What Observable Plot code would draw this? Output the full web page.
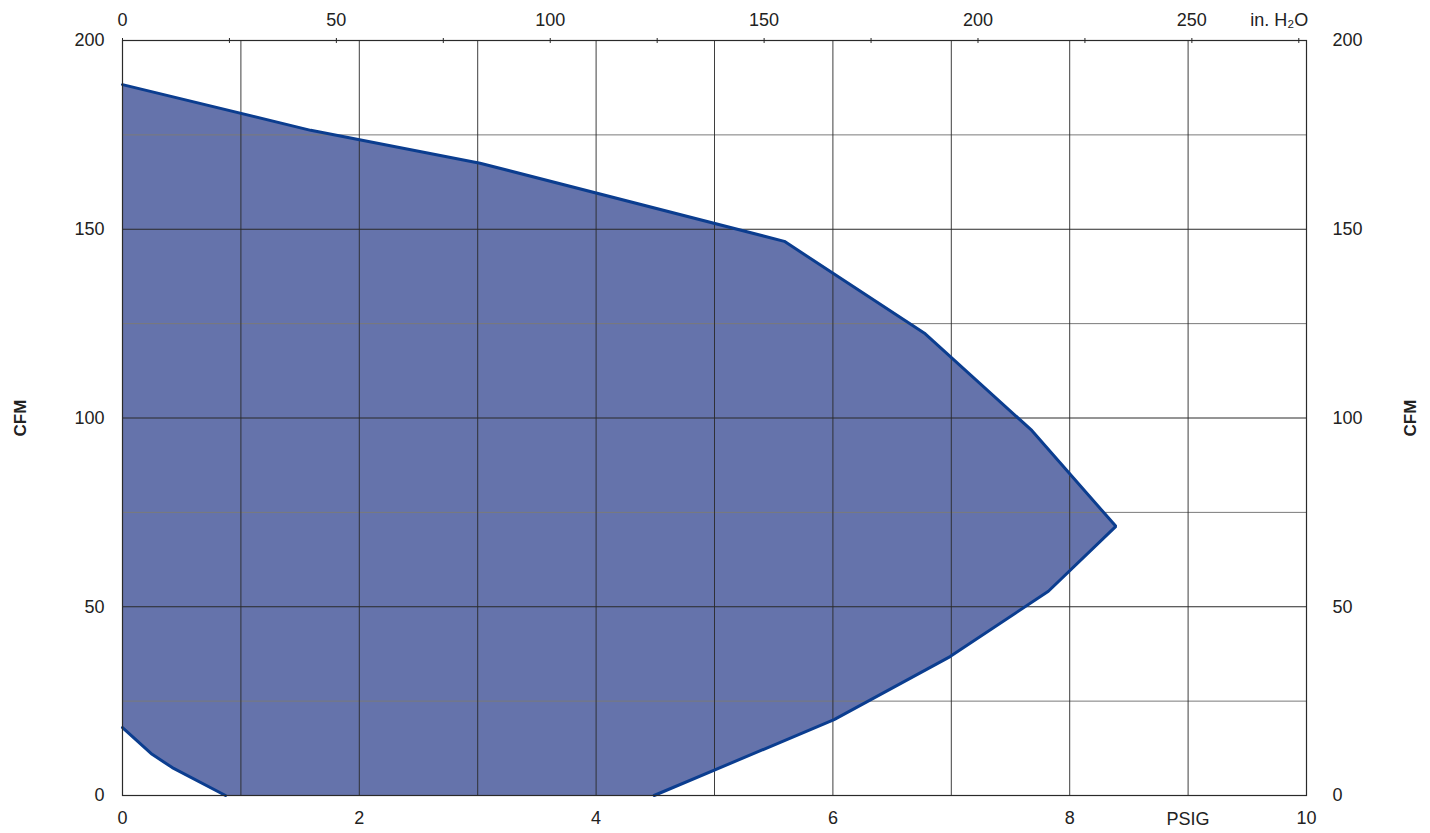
<!DOCTYPE html>
<html><head><meta charset="utf-8">
<script src="https://cdn.jsdelivr.net/npm/d3@7"></script>
<script src="https://cdn.jsdelivr.net/npm/@observablehq/plot@0.6"></script>
<style>html,body{margin:0;padding:0;background:#fff} svg{display:block}</style>
</head><body><div id="chart"></div>
<script>
const H2O_PER_PSI = 27.68;
// Operating envelope: outer boundary (top/right), listed from left axis to bottom axis
const outerPsig = [0, 1.59, 3.02, 5.59, 6.78, 7.68, 8.39, 7.82, 6.99, 6.01, 4.49];
const outerCfm  = [188.3, 176.2, 167.5, 146.8, 122.3, 96.7, 71.3, 54.1, 36.8, 20.1, 0];
// Inner boundary (bottom-left cut), listed from left axis to bottom axis
const innerPsig = [0, 0.25, 0.42, 0.87];
const innerCfm  = [18.0, 10.9, 7.4, 0];

const psigTicks = [0, 2, 4, 6, 8, 10];
const cfmTicks = [0, 50, 100, 150, 200];
const h2oTicks = [0, 50, 100, 150, 200, 250];
const h2oMinorTicks = [25, 75, 125, 175, 225, 275];
const cfmGridMajor = [50, 100, 150];
const cfmGridMinor = [25, 75, 125, 175];
const psigGrid = [1, 2, 3, 4, 5, 6, 7, 8, 9];

const outer = outerPsig.map((x, i) => ({x, y: outerCfm[i]}));
const inner = innerPsig.map((x, i) => ({x, y: innerCfm[i]}));
const polygon = outer.concat(inner.slice().reverse());

const allTopTicks = h2oTicks.concat(h2oMinorTicks).map(v => v / H2O_PER_PSI);

const FILL = "#6573ab", STROKE = "#0b3d8f", GRID = "#2a2a2a", GRID2 = "#7a7a7a";

const chart = Plot.plot({
  width: 1430,
  height: 833,
  marginLeft: 122,
  marginRight: 124,
  marginTop: 40,
  marginBottom: 38,
  style: {fontFamily: "'Liberation Sans Narrow', 'Liberation Sans', Arial, sans-serif", fontSize: "18px", color: "#222", background: "#fff"},
  x: {domain: [0, 10]},
  y: {domain: [0, 200]},
  marks: [
    Plot.line(polygon, {x: "x", y: "y", fill: FILL, stroke: "none"}),
    Plot.ruleY(cfmGridMinor, {stroke: GRID2, strokeWidth: 1}),
    Plot.ruleY(cfmGridMajor, {stroke: GRID, strokeWidth: 1}),
    Plot.ruleX(psigGrid, {stroke: GRID, strokeWidth: 1, strokeOpacity: 0.9}),
    Plot.line(outer, {x: "x", y: "y", stroke: STROKE, strokeWidth: 3, strokeLinejoin: "miter"}),
    Plot.line(inner, {x: "x", y: "y", stroke: STROKE, strokeWidth: 3}),
    Plot.frame({stroke: GRID, strokeWidth: 1.2}),
    Plot.axisX(psigTicks, {anchor: "bottom", tickSize: 0, tickPadding: 16, tickFormat: d => String(d), label: null}),
    Plot.text(["PSIG"], {x: 9, frameAnchor: "bottom", dy: 17, lineAnchor: "top", text: d => d}),
    Plot.axisX(h2oTicks.map(v => v / H2O_PER_PSI), {anchor: "top", tickSize: 3, tickPadding: 12, tickFormat: d => String(Math.round(d * H2O_PER_PSI)), label: null}),
    Plot.axisX(h2oMinorTicks.map(v => v / H2O_PER_PSI), {anchor: "top", tickSize: 3, tickFormat: () => "", label: null}),
    Plot.ruleX(allTopTicks, {x: d => d, y1: 200, y2: 199.2, stroke: GRID, strokeWidth: 1}),
    Plot.text(["in. H₂O"], {x: 9.77, frameAnchor: "top", dy: -15, lineAnchor: "bottom", text: d => d}),
    Plot.axisY(cfmTicks, {anchor: "left", tickSize: 0, tickPadding: 18, label: null}),
    Plot.axisY(cfmTicks, {anchor: "right", tickSize: 0, tickPadding: 26, label: null}),
    Plot.text(["CFM"], {frameAnchor: "left", dx: -102, rotate: -90, textAnchor: "middle", text: d => d, fontWeight: "bold", fontSize: 17}),
    Plot.text(["CFM"], {frameAnchor: "right", dx: 104, rotate: -90, textAnchor: "middle", text: d => d, fontWeight: "bold", fontSize: 17})
  ]
});
document.getElementById("chart").appendChild(chart);
</script>
</body></html>
